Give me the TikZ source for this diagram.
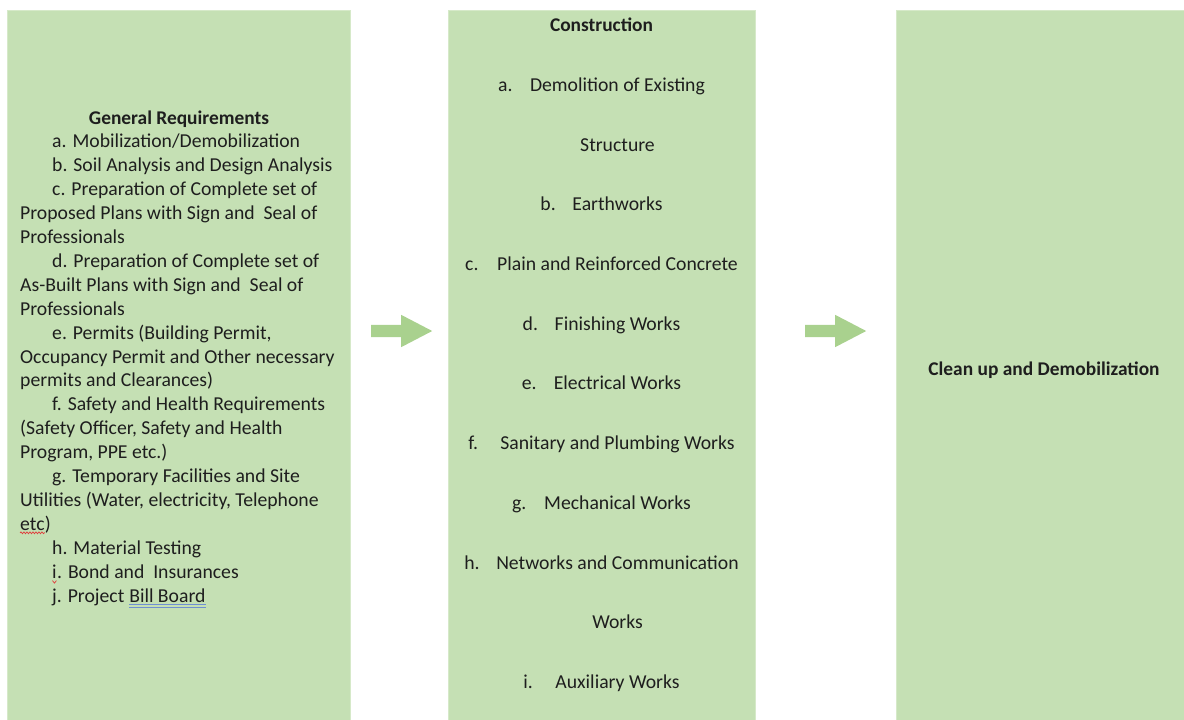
\documentclass[tikz,border=0pt]{standalone}
\usepackage{fontspec}
\setmainfont{Carlito}
\usetikzlibrary{shapes,arrows,positioning,decorations.pathmorphing}

\definecolor{stagegreen}{HTML}{C5E0B4}
\definecolor{stageedge}{HTML}{D6E9C9}
\definecolor{flowgreen}{HTML}{A9D18E}
\definecolor{inkgrey}{HTML}{1E1E1E}
\definecolor{spellred}{HTML}{E03A3A}
\definecolor{grammarblue}{HTML}{6F8FD2}

\tikzstyle{stage} = [draw=stageedge, fill=stagegreen, rectangle, minimum height=720pt, inner sep=0pt]
\tikzstyle{flow} = [single arrow, fill=flowgreen, draw=none, minimum height=61pt, single arrow head extend=10pt, single arrow tip angle=55, inner xsep=0pt, inner ysep=6pt, anchor=tail]
\tikzstyle{titletext} = [font=\fontsize{19.4}{23.9}\selectfont\bfseries, text=inkgrey, inner sep=0pt, anchor=base]
\tikzstyle{itemtext} = [font=\fontsize{19.7}{23.9}\selectfont, text=inkgrey, inner sep=0pt, anchor=base west]
\tikzstyle{worktext} = [font=\fontsize{19.7}{23.9}\selectfont, text=inkgrey, inner sep=0pt, anchor=base]
\tikzstyle{spellline} = [draw=spellred, line width=0.7pt, decorate, decoration={snake, amplitude=0.9pt, segment length=3pt}]
\tikzstyle{grammarline} = [draw=grammarblue, line width=1pt]
\newcommand{\lbl}[1]{\makebox[32pt][l]{#1}}

\begin{document}
\begin{tikzpicture}[auto, x=1pt, y=-1pt]
	\useasboundingbox (0,0) rectangle (1184,720);

	\node [stage, minimum width=343pt, anchor=north west] (genbox) at (7,10) {};
	\node [stage, minimum width=307pt, right=98pt of genbox] (constbox) {};
	\node [stage, minimum width=300pt, right=140pt of constbox] (cleanbox) {};

	\node [flow] (arrow1) at (371,331) {};
	\node [flow] (arrow2) at (805,331) {};

	% general requirements
	\node [titletext] (genhead) at (179,124) {General Requirements};
	\node [itemtext] (mob) at (52,147.9) {a. Mobilization/Demobilization};
	\node [itemtext] (soil) at (52,171.8) {b. Soil Analysis and Design Analysis};
	\node [itemtext] (proposed) at (52,195.7) {c. Preparation of Complete set of};
	\node [itemtext] (proposed2) at (20,219.6) {Proposed Plans with Sign and~ Seal of};
	\node [itemtext] (proposed3) at (20,243.5) {Professionals};
	\node [itemtext] (asbuilt) at (52,267.4) {d. Preparation of Complete set of};
	\node [itemtext] (asbuilt2) at (20,291.3) {As-Built Plans with Sign and~ Seal of};
	\node [itemtext] (asbuilt3) at (20,315.2) {Professionals};
	\node [itemtext] (permits) at (52,339.1) {e. Permits (Building Permit,};
	\node [itemtext] (permits2) at (20,363) {Occupancy Permit and Other necessary};
	\node [itemtext] (permits3) at (20,386.9) {permits and Clearances)};
	\node [itemtext] (safety) at (52,410.8) {f. Safety and Health Requirements};
	\node [itemtext] (safety2) at (20,434.7) {(Safety Officer, Safety and Health};
	\node [itemtext] (safety3) at (20,458.6) {Program, PPE etc.)};
	\node [itemtext] (temp) at (52,482.5) {g. Temporary Facilities and Site};
	\node [itemtext] (temp2) at (20,506.4) {Utilities (Water, electricity, Telephone};
	\node [itemtext] (temp3) at (20,530.3) {etc};
	\node [itemtext] (temp3b) at (temp3.base east) {)};
	\node [itemtext] (testing) at (52,554.2) {h. Material Testing};
	\node [itemtext] (bond) at (52,578.1) {i};
	\node [itemtext] (bond2) at (bond.base east) {. Bond and~ Insurances};
	\node [itemtext] (billboard) at (52,602) {j. Project};
	\node [itemtext] (billboard2) at ([xshift=4.5pt]billboard.base east) {Bill Board};

	% proofing marks
	\path [spellline] ([yshift=-2.5pt]temp3.base west) -- ([yshift=-2.5pt]temp3.base east);
	\draw [spellred, line width=0.7pt] ([xshift=-2pt,yshift=-2.5pt]bond.base) -- ([yshift=-5pt]bond.base) -- ([xshift=2pt,yshift=-2.5pt]bond.base);
	\path [grammarline] ([yshift=-2pt]billboard2.base west) -- ([yshift=-2pt]billboard2.base east);
	\path [grammarline] ([yshift=-5pt]billboard2.base west) -- ([yshift=-5pt]billboard2.base east);

	% construction
	\node [titletext] (consthead) at (601.5,31.7) {Construction};
	\node [worktext] (demolition) at (601.5,91.4) {\lbl{a.}Demolition of Existing};
	\node [worktext] (demolition2) at (617.5,151.1) {Structure};
	\node [worktext] (earth) at (601.5,210.8) {\lbl{b.}Earthworks};
	\node [worktext] (concrete) at (601.5,270.5) {\lbl{c.}Plain and Reinforced Concrete};
	\node [worktext] (finishing) at (601.5,330.2) {\lbl{d.}Finishing Works};
	\node [worktext] (electrical) at (601.5,389.9) {\lbl{e.}Electrical Works};
	\node [worktext] (sanitary) at (601.5,449.6) {\lbl{f.}Sanitary and Plumbing Works};
	\node [worktext] (mechanical) at (601.5,509.3) {\lbl{g.}Mechanical Works};
	\node [worktext] (networks) at (601.5,569) {\lbl{h.}Networks and Communication};
	\node [worktext] (networks2) at (617.5,628.7) {Works};
	\node [worktext] (auxiliary) at (601.5,688.4) {\lbl{i.}Auxiliary Works};

	% clean up
	\node [titletext] (cleanhead) at (1044,375) {Clean up and Demobilization};
\end{tikzpicture}
\end{document}
